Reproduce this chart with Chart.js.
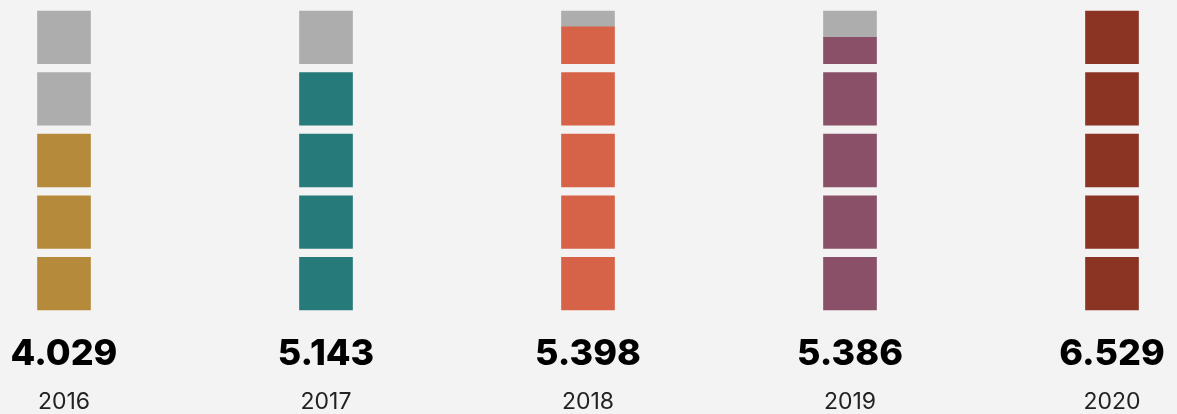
<!DOCTYPE html>
<html>
<head>
<meta charset="utf-8">
<script src="https://cdn.jsdelivr.net/npm/chart.js@4.4.1/dist/chart.umd.min.js"></script>
<style>
  html, body { margin: 0; padding: 0; background: #f3f3f3; }
  #wrap { width: 1177px; height: 414px; }
</style>
</head>
<body>
<div id="wrap"><canvas id="chart" width="1177" height="414"></canvas></div>
<script>
// 数据
const years = ['2016', '2017', '2018', '2019', '2020'];
const totals = [4029, 5143, 5398, 5386, 6529];
const filledBlocks = [3, 4, 4.7, 4.5, 5];
const blockCount = 5;

const yearColors = ['#b58b3b', '#277a7a', '#d66347', '#8a5068', '#8c3424'];
const emptyColor = '#adadad';

// 每个方块占 1 个单位，方块之间留一点空隙
const gap = 0.17;
const step = 1 + gap;

const datasets = [];
for (let k = 0; k < blockCount; k++) {
    const base = k * step;
    const filled = filledBlocks.map(v => Math.max(0, Math.min(1, v - k)));
    datasets.push({
        data: filled.map(f => f > 0 ? [base, base + f] : null),
        backgroundColor: yearColors
    });
    datasets.push({
        data: filled.map(f => f < 1 ? [base + f, base + 1] : null),
        backgroundColor: emptyColor
    });
}

const totalLabels = totals.map(v => v.toLocaleString('de-DE'));

// 固定坐标轴高度，去掉标签溢出造成的左右留白
function fixAxis(height) {
    return scale => {
        scale.height = height;
        scale.paddingLeft = 0;
        scale.paddingRight = 0;
    };
}

new Chart(document.getElementById('chart'), {
    type: 'bar',
    data: {
        labels: years,
        datasets: datasets.map(d => Object.assign(d, {
            grouped: false,
            barThickness: 53,
            borderWidth: 0,
            clip: false
        }))
    },
    options: {
        responsive: false,
        animation: false,
        layout: { padding: { left: 64, right: 65, top: 11, bottom: 0 } },
        plugins: { legend: { display: false }, tooltip: { enabled: false } },
        scales: {
            y: {
                display: false,
                min: 0,
                max: blockCount * step - gap
            },
            totals: {
                type: 'category',
                labels: totalLabels,
                position: 'bottom',
                weight: 0,
                offset: false,
                grid: { display: false, drawTicks: false },
                border: { display: false },
                afterFit: fixAxis(66),
                ticks: {
                    padding: 23,
                    color: '#000',
                    maxRotation: 0,
                    autoSkip: false,
                    font: { family: 'Inter', size: 36, weight: 800 }
                }
            },
            x: {
                position: 'bottom',
                weight: 1,
                offset: false,
                grid: { display: false, drawTicks: false },
                border: { display: false },
                afterFit: fixAxis(38),
                ticks: {
                    padding: 12,
                    color: '#222',
                    maxRotation: 0,
                    autoSkip: false,
                    font: { family: 'Inter', size: 23 }
                }
            }
        }
    }
});
</script>
</body>
</html>
